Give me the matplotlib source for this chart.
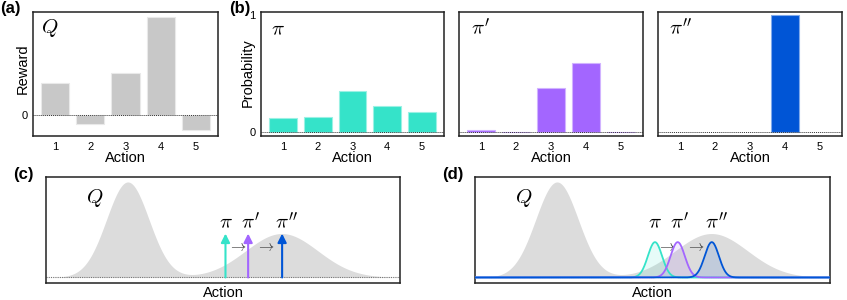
import numpy as np
import matplotlib
matplotlib.use("Agg")
import matplotlib.pyplot as plt

plt.rcParams['font.family'] = ['Liberation Sans', 'DejaVu Sans']
plt.rcParams['mathtext.fontset'] = 'cm'

# ---- data ----
actions = [1, 2, 3, 4, 5]
q_values = [1.0, -0.28, 1.31, 3.06, -0.47]
pi_values = [0.12, 0.13, 0.355, 0.225, 0.17]
pi1_values = [0.02, 0.004, 0.375, 0.595, 0.006]
pi2_values = [0.0, 0.0, 0.0, 1.0, 0.0]

# continuous Q: two bumps (centre, height, width)
q_centres = [2.31, 6.66]
q_heights = [1.0, 0.46]
q_widths = [0.60, 1.02]
# policies in (c)/(d)
pol_centres = [5.07, 5.71, 6.67]
pol_arrow_height = 0.46
pol_gauss_height = 0.37
pol_gauss_width = 0.2
pol_labels = [r'$\pi$', r"$\pi'$", r"$\pi''$"]

col_gray = '#c8c8c8'
col_fill = '#dcdcdc'
col_pi = '#35e3c9'
col_pi1 = '#a366ff'
col_pi2 = '#0055d6'
pol_colors = [col_pi, col_pi1, col_pi2]
spine_col = '#222222'

W, H = 847, 300
fig = plt.figure(figsize=(W / 100, H / 100), dpi=100)


def ax_px(l, t, r, b):
    return fig.add_axes([l / W, 1 - b / H, (r - l) / W, (b - t) / H])


def style(ax):
    for s in ax.spines.values():
        s.set_color(spine_col)
        s.set_linewidth(1.1)
    ax.tick_params(length=0, labelsize=8, pad=4)


def lighten(c, f=0.45):
    rgb = np.array(matplotlib.colors.to_rgb(c))
    return tuple(rgb + (1 - rgb) * f)


def draw_bars(ax, vals, c, f):
    bars = ax.bar(actions, vals, width=0.8, color=c, edgecolor=lighten(c, f), linewidth=0.8)
    for b, v in zip(bars, vals):
        if v == 0:
            b.set_linewidth(0)


# ---- (a) ----
axa = ax_px(33, 12, 218, 136)
style(axa)
draw_bars(axa, q_values, col_gray, 0.6)
axa.axhline(0, color='#333333', lw=0.7, ls=(0, (1, 1)))
axa.set_xlim(0.36, 5.64)
axa.set_ylim(-0.66, 3.22)
axa.set_xticks(actions)
axa.set_yticks([0])
axa.set_ylabel('Reward', fontsize=10.5)
axa.yaxis.set_label_coords(-0.02, 0.545)
axa.set_xlabel('Action', fontsize=10.5)
axa.xaxis.set_label_coords(0.5, -0.125)
axa.text(0.045, 0.87, r'$Q$', transform=axa.transAxes, fontsize=15, va='center', ha='left')

# ---- (b) ----
b_specs = [(261, 444, pi_values, col_pi, r'$\pi$', 0.055),
           (459, 643, pi1_values, col_pi1, r"$\pi'$", 0.065),
           (658, 842, pi2_values, col_pi2, r"$\pi''$", 0.06)]
for i, (l, r, vals, c, lab, lx) in enumerate(b_specs):
    ax = ax_px(l, 12, r, 136)
    style(ax)
    draw_bars(ax, vals, c, 0.5)
    ax.axhline(0, color='#333333', lw=0.7, ls=(0, (1, 1)))
    ax.set_xlim(0.37, 5.63)
    ax.set_ylim(-0.032, 1.026)
    ax.set_xticks(actions)
    if i == 0:
        ax.set_yticks([0, 1])
        ax.set_ylabel('Probability', fontsize=10.5)
        ax.yaxis.set_label_coords(-0.033, 0.51)
    else:
        ax.set_yticks([])
    ax.set_xlabel('Action', fontsize=10.5)
    ax.xaxis.set_label_coords(0.5, -0.125)
    ax.text(lx, 0.86, lab, transform=ax.transAxes, fontsize=15, va='center', ha='left')

# ---- (c) and (d) ----
x = np.linspace(0, 10, 1000)
qc = np.zeros_like(x)
for m, h, s in zip(q_centres, q_heights, q_widths):
    qc += h * np.exp(-(x - m) ** 2 / (2 * s ** 2))

label_dx = [0.0, 0.06, 0.14]
arrow_text_x = [5.4, 6.2]

for k, (l, r) in enumerate([(46, 400), (475, 830)]):
    ax = ax_px(l, 177, r, 283)
    style(ax)
    ax.fill_between(x, 0, qc, color=col_fill, lw=0, zorder=1)
    ax.axhline(0, color='#777777', lw=0.8, ls=(0, (1, 1)), zorder=2)
    ax.set_xlim(0, 10)
    ax.set_ylim(-0.058, 1.052)
    ax.set_xticks([])
    ax.set_yticks([])
    ax.set_xlabel('Action', fontsize=10.5)
    ax.xaxis.set_label_coords(0.5, -0.03)
    ax.text(1.38, 0.83, r'$Q$', fontsize=15, ha='center', va='center')
    for j, (cx, c) in enumerate(zip(pol_centres, pol_colors)):
        if k == 0:
            ax.annotate('', xy=(cx, pol_arrow_height), xytext=(cx, 0),
                        arrowprops=dict(arrowstyle='-|>', color=c, lw=1.5,
                                        mutation_scale=13, shrinkA=0, shrinkB=0),
                        zorder=4)
        else:
            g = pol_gauss_height * np.exp(-(x - cx) ** 2 / (2 * pol_gauss_width ** 2))
            ax.fill_between(x, 0, g, color=c, alpha=0.12, lw=0, zorder=3)
            ax.plot(x, g, color=c, lw=1.3, zorder=4)
        ax.text(cx + label_dx[j], 0.57, pol_labels[j], fontsize=15, ha='center', va='center')
    for tx in arrow_text_x:
        ax.text(tx, 0.32, r'$\rightarrow$', fontsize=11, ha='center', va='center', color='#333333')

# panel labels
for lab, px, py in [('(a)', 0, 8), ('(b)', 229, 8), ('(c)', 13, 175), ('(d)', 442, 175)]:
    fig.text(px / W, 1 - py / H, lab, fontsize=12, fontweight='bold', ha='left', va='center')

fig.savefig('out.png', dpi=100)
